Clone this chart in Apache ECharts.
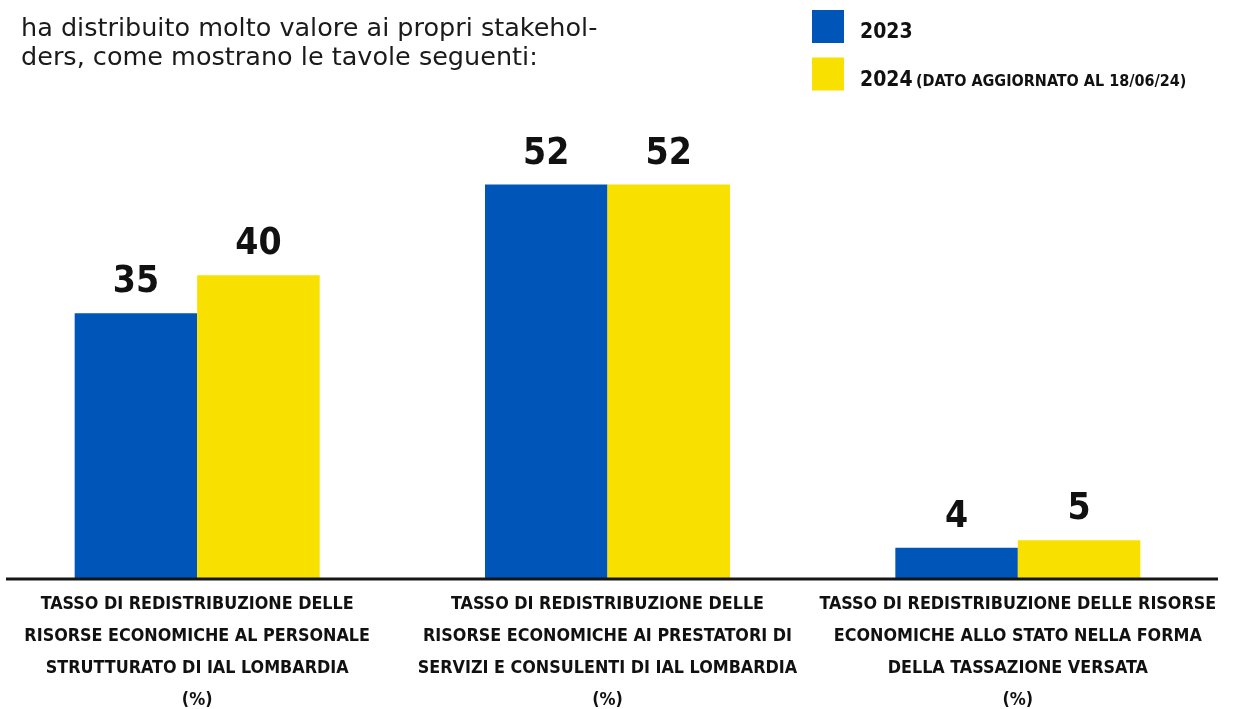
<!DOCTYPE html>
<html>
<head>
<meta charset="utf-8">
<script src="https://cdn.jsdelivr.net/npm/echarts@6/dist/echarts.min.js"></script>
<style>
  html, body { margin: 0; padding: 0; background: #ffffff; }
  #chart { width: 1237px; height: 709px; }
</style>
</head>
<body>
<div id="chart"></div>
<script>
// Redistribution rates (%) by destination of resources
const categories = [
  'TASSO DI REDISTRIBUZIONE DELLE\nRISORSE ECONOMICHE AL PERSONALE\nSTRUTTURATO DI IAL LOMBARDIA\n(%)',
  'TASSO DI REDISTRIBUZIONE DELLE\nRISORSE ECONOMICHE AI PRESTATORI DI\nSERVIZI E CONSULENTI DI IAL LOMBARDIA\n(%)',
  'TASSO DI REDISTRIBUZIONE DELLE RISORSE\nECONOMICHE ALLO STATO NELLA FORMA\nDELLA TASSAZIONE VERSATA\n(%)'
];
const values2023 = [35, 52, 4];
const values2024 = [40, 52, 5];
const seriesNames = ['2023', '2024'];
const introText = 'ha distribuito molto valore ai propri stakehol-\nders, come mostrano le tavole seguenti:';

const BLUE = '#0056B8';
const YELLOW = '#F8E100';
const COND = '"DejaVu Sans Condensed", "DejaVu Sans", sans-serif';

const chart = echarts.init(document.getElementById('chart'), null, { renderer: 'canvas' });

const valueLabel = {
  show: true,
  position: 'top',
  distance: 12,
  fontFamily: COND,
  fontWeight: 'bold',
  fontSize: 37,
  color: '#111111'
};

chart.setOption({
  animation: false,
  backgroundColor: '#ffffff',
  title: {
    text: introText,
    left: 21,
    top: 15,
    padding: 0,
    textStyle: {
      fontFamily: '"DejaVu Sans", sans-serif',
      fontWeight: 'normal',
      fontSize: 25.5,
      lineHeight: 29,
      color: '#1a1a1a'
    }
  },
  legend: {
    orient: 'vertical',
    left: 812,
    top: 10,
    padding: 0,
    itemWidth: 32,
    itemHeight: 33,
    itemGap: 14,
    icon: 'rect',
    data: seriesNames,
    formatter: function (name) {
      return name === '2024'
        ? '{y|' + name + '} {n|(DATO AGGIORNATO AL 18/06/24)}'
        : '{y|' + name + '}';
    },
    textStyle: {
      padding: [13, 0, 0, 11],
      rich: {
        y: { fontFamily: COND, fontWeight: 'bold', fontSize: 21, color: '#111111' },
        n: { fontFamily: COND, fontWeight: 'bold', fontSize: 16, color: '#111111', padding: [3, 0, 0, 0] }
      }
    }
  },
  grid: {
    left: -8,
    right: 14,
    top: 124,
    bottom: 131,
    containLabel: false,
    outerBoundsMode: 'none'
  },
  xAxis: {
    type: 'category',
    data: categories,
    axisLine: { show: false },
    axisTick: { show: false },
    axisLabel: {
      interval: 0,
      margin: 10,
      hideOverlap: false,
      fontFamily: COND,
      fontWeight: 'bold',
      fontSize: 17.8,
      lineHeight: 32,
      color: '#111111',
      align: 'center'
    }
  },
  yAxis: {
    type: 'value',
    min: 0,
    max: 60,
    show: false,
    splitLine: { show: false }
  },
  series: [
    {
      name: seriesNames[0],
      type: 'bar',
      data: values2023,
      barWidth: 122.5,
      barGap: '0%',
      itemStyle: { color: BLUE },
      label: valueLabel
    },
    {
      name: seriesNames[1],
      type: 'bar',
      data: values2024,
      barWidth: 122.5,
      barGap: '0%',
      itemStyle: { color: YELLOW },
      label: valueLabel
    }
  ],
  graphic: [
    {
      type: 'line',
      z: 100,
      shape: { x1: 6, y1: 579, x2: 1218, y2: 579 },
      style: { stroke: '#161616', lineWidth: 3 }
    }
  ]
});
</script>
</body>
</html>
